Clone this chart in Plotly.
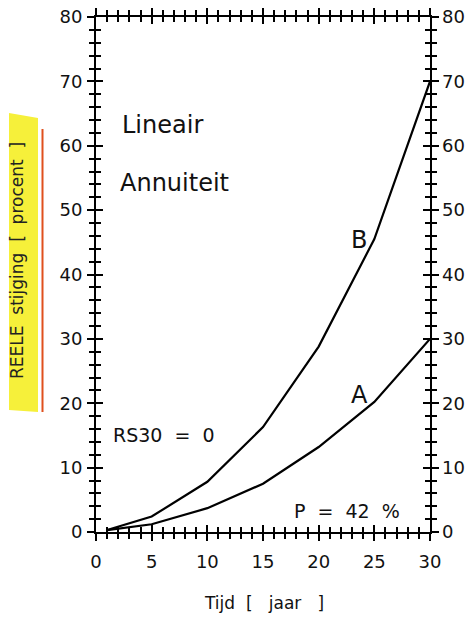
import plotly.graph_objects as go

# ---- data ----
years = [1, 5, 10, 15, 20, 25, 30]
curve_B = [0.3, 2.4, 7.8, 16.3, 28.8, 45.5, 70.0]
curve_A = [0.3, 1.2, 3.7, 7.5, 13.2, 20.2, 30.0]
x_ticks = [0, 5, 10, 15, 20, 25, 30]
y_ticks = [0, 10, 20, 30, 40, 50, 60, 70, 80]

W, H = 469, 617
L, R, T, B = 96, 39, 17, 85
pw, ph = W - L - R, H - T - B

def px(xp):
    return (xp - L) / pw

def py(yp):
    return (H - B - yp) / ph

FONT = "DejaVu Sans"
NB = "\u00a0"

fig = go.Figure()
line_style = dict(color="black", width=2.2)
fig.add_trace(go.Scatter(x=years, y=curve_B, mode="lines", line=line_style,
                         showlegend=False, hoverinfo="skip"))
fig.add_trace(go.Scatter(x=years, y=curve_A, mode="lines", line=line_style,
                         showlegend=False, hoverinfo="skip"))
# invisible traces so overlay axes are drawn
fig.add_trace(go.Scatter(x=[None], y=[None], xaxis="x2", yaxis="y3",
                         showlegend=False, hoverinfo="skip"))
fig.add_trace(go.Scatter(x=[None], y=[None], xaxis="x", yaxis="y2",
                         showlegend=False, hoverinfo="skip"))

tickfont = dict(family=FONT, size=18, color="#111")

common_x = dict(range=[0, 30], showgrid=False, zeroline=False, automargin=False,
                tickvals=x_ticks, ticklen=7, tickwidth=1.5, tickcolor="black",
                minor=dict(dtick=1, ticklen=5, tickwidth=1.5, tickcolor="black"),
                fixedrange=True)
common_y = dict(range=[0, 80], showgrid=False, zeroline=False, automargin=False,
                tickvals=y_ticks, ticklen=7, tickwidth=1.5, tickcolor="black",
                minor=dict(dtick=2, ticklen=5, tickwidth=1.5, tickcolor="black"),
                fixedrange=True)

fig.update_layout(
    width=W, height=H,
    margin=dict(l=L, r=R, t=T, b=B, pad=0, autoexpand=False),
    paper_bgcolor="white", plot_bgcolor="white",
    xaxis=dict(**common_x, ticks="outside", mirror="ticks",
               minor_ticks="outside",
               showline=True, linecolor="black", linewidth=2,
               tickfont=tickfont, ticklabelstandoff=5),
    xaxis2=dict(**common_x, ticks="inside", mirror="ticks", minor_ticks="inside",
                overlaying="x", side="bottom", anchor="y", showline=False,
                showticklabels=False),
    yaxis=dict(**common_y, ticks="outside", mirror="ticks", minor_ticks="outside",
               showline=True, linecolor="black", linewidth=2,
               tickfont=tickfont, ticklabelstandoff=1),
    yaxis2=dict(range=[0, 80], tickvals=y_ticks, overlaying="y", side="right",
                anchor="x", showgrid=False, zeroline=False, ticks="", automargin=False,
                showline=False, tickfont=tickfont, ticklabelstandoff=11,
                fixedrange=True),
    yaxis3=dict(**common_y, ticks="inside", mirror="ticks", minor_ticks="inside",
                overlaying="y", side="left", anchor="x2", showline=False,
                showticklabels=False),
)

# highlighter marks on the y title
fig.add_shape(type="path", xref="paper", yref="paper", layer="below",
              path=f"M {px(9)} {py(113)} L {px(38)} {py(118)} L {px(38)} {py(412)} "
                   f"L {px(9)} {py(410)} Z",
              fillcolor="#f6f03a", line=dict(width=0))
fig.add_shape(type="line", xref="paper", yref="paper", layer="below",
              x0=px(42.5), x1=px(42.5), y0=py(129), y1=py(412),
              line=dict(color="#e0501e", width=2))

textfont = dict(family=FONT, size=24, color="#111")
labfont = dict(family=FONT, size=19, color="#111")

notes = [
    ("Lineair", 2.16, 63.3, textfont),
    ("Annuiteit", 1.98, 54.2, textfont),
    ("B", 22.7, 45.3, textfont),
    ("A", 22.7, 21.3, textfont),
    (f"RS30{NB}{NB}={NB}{NB}0", 1.35, 15.1, labfont),
    (f"P{NB}{NB}={NB}{NB}42{NB}{NB}%", 17.6, 3.3, labfont),
]
for txt, x, y, f in notes:
    fig.add_annotation(text=txt, x=x, y=y, xref="x", yref="y",
                       xanchor="left", yanchor="middle", showarrow=False, font=f)

fig.add_annotation(text=f"Tijd{NB}{NB}[{NB}{NB}{NB}jaar{NB}{NB}{NB}]",
                   x=px(263.5), y=py(603), xref="paper", yref="paper",
                   xanchor="center", yanchor="middle", showarrow=False,
                   font=dict(family=FONT, size=17, color="#111"))
fig.add_annotation(text=f"REELE{NB}{NB}stijging{NB}{NB}[{NB}{NB}procent{NB}{NB}]",
                   x=px(17), y=py(261), xref="paper", yref="paper",
                   xanchor="center", yanchor="middle", showarrow=False,
                   textangle=-90,
                   font=dict(family=FONT, size=17, color="#222"))

fig.write_html("out.html")
